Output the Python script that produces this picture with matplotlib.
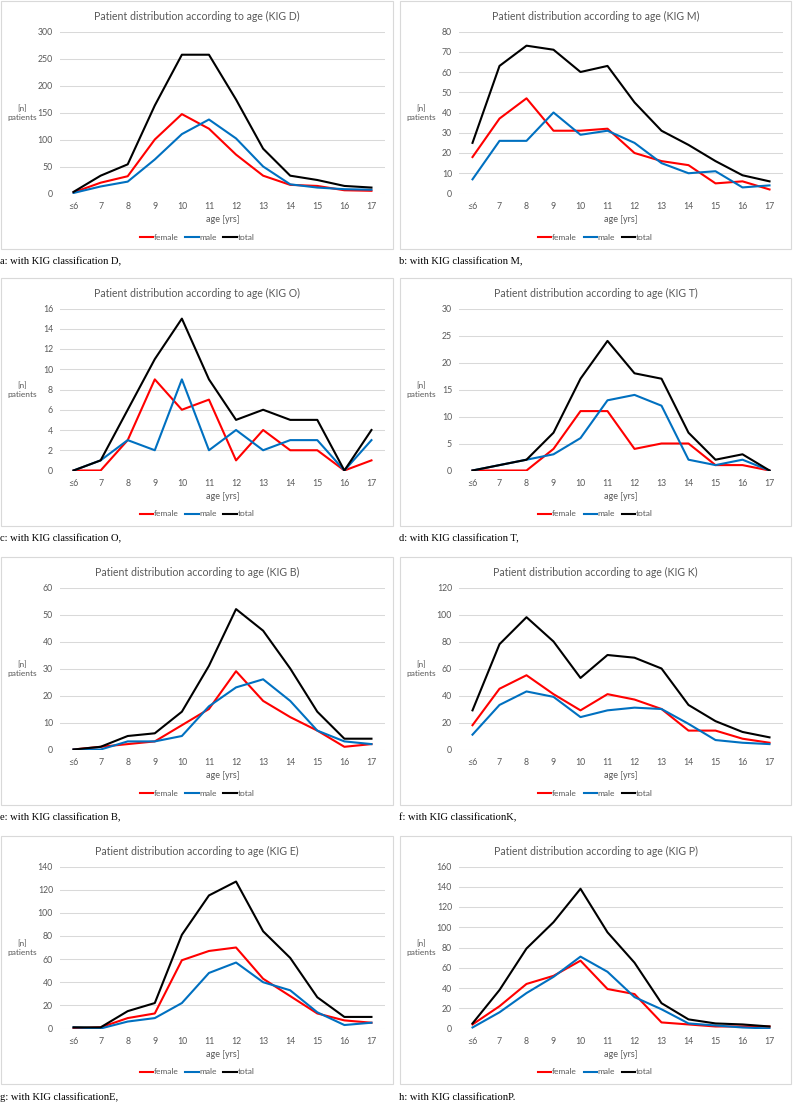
import matplotlib
matplotlib.use("Agg")
import matplotlib.pyplot as plt
from matplotlib.patches import Rectangle
from matplotlib.lines import Line2D

ages = ["≤6", "7", "8", "9", "10", "11", "12", "13", "14", "15", "16", "17"]

d_female = [2, 20, 32, 100, 147, 120, 72, 33, 16, 14, 6, 5]
d_male = [1, 13, 22, 63, 110, 137, 102, 50, 17, 11, 8, 7]
d_total = [3, 33, 54, 163, 257, 257, 174, 83, 33, 25, 14, 11]

m_female = [18, 37, 47, 31, 31, 32, 20, 16, 14, 5, 6, 2]
m_male = [7, 26, 26, 40, 29, 31, 25, 15, 10, 11, 3, 4]
m_total = [25, 63, 73, 71, 60, 63, 45, 31, 24, 16, 9, 6]

o_female = [0, 0, 3, 9, 6, 7, 1, 4, 2, 2, 0, 1]
o_male = [0, 1, 3, 2, 9, 2, 4, 2, 3, 3, 0, 3]
o_total = [0, 1, 6, 11, 15, 9, 5, 6, 5, 5, 0, 4]

t_female = [0, 0, 0, 4, 11, 11, 4, 5, 5, 1, 1, 0]
t_male = [0, 1, 2, 3, 6, 13, 14, 12, 2, 1, 2, 0]
t_total = [0, 1, 2, 7, 17, 24, 18, 17, 7, 2, 3, 0]

b_female = [0, 1, 2, 3, 9, 15, 29, 18, 12, 7, 1, 2]
b_male = [0, 0, 3, 3, 5, 16, 23, 26, 18, 7, 3, 2]
b_total = [0, 1, 5, 6, 14, 31, 52, 44, 30, 14, 4, 4]

k_female = [18, 45, 55, 41, 29, 41, 37, 30, 14, 14, 8, 5]
k_male = [11, 33, 43, 39, 24, 29, 31, 30, 19, 7, 5, 4]
k_total = [29, 78, 98, 80, 53, 70, 68, 60, 33, 21, 13, 9]

e_female = [0, 1, 9, 13, 59, 67, 70, 43, 28, 13, 7, 5]
e_male = [1, 0, 6, 9, 22, 48, 57, 40, 33, 14, 3, 5]
e_total = [1, 1, 15, 22, 81, 115, 127, 84, 61, 27, 10, 10]

p_female = [4, 22, 44, 52, 67, 39, 34, 6, 4, 2, 2, 2]
p_male = [1, 16, 35, 51, 71, 56, 31, 19, 5, 3, 1, 0]
p_total = [5, 38, 79, 105, 138, 95, 65, 25, 9, 5, 4, 2]

kig_codes = ["D", "M", "O", "T", "B", "K", "E", "P"]
captions = [
    "a: with KIG classification D,",
    "b: with KIG classification M,",
    "c: with KIG classification O,",
    "d: with KIG classification T,",
    "e: with KIG classification B,",
    "f: with KIG classificationK,",
    "g: with KIG classificationE,",
    "h: with KIG classificationP.",
]
y_max = [300, 80, 16, 30, 60, 120, 140, 160]
y_step = [50, 10, 2, 5, 10, 20, 20, 20]

series = [
    (d_female, d_male, d_total),
    (m_female, m_male, m_total),
    (o_female, o_male, o_total),
    (t_female, t_male, t_total),
    (b_female, b_male, b_total),
    (k_female, k_male, k_total),
    (e_female, e_male, e_total),
    (p_female, p_male, p_total),
]

W, H = 794, 1104
fig = plt.figure(figsize=(W / 100, H / 100), dpi=100)

FONT = "Lato"
GRAY = "#595959"
COLORS = ["#FF0000", "#0070C0", "#000000"]
LABELS = ["female", "male", "total"]

box_lefts = [1, 400]
box_rights = [393, 791]
box_tops = [1, 278, 557, 836]
box_h = 248


def fx(x):
    return x / W


def fy(y):
    return 1 - y / H


for i in range(8):
    row, col = divmod(i, 2)
    bl, br = box_lefts[col], box_rights[col]
    bt = box_tops[row]
    bb = bt + box_h
    # panel border
    fig.add_artist(Rectangle((fx(bl), fy(bb)), fx(br - bl), (bb - bt) / H,
                             transform=fig.transFigure, fill=False,
                             edgecolor="#d9d9d9", linewidth=0.8))
    al, ar = bl + 59, br - 8
    at, ab = bt + 30.5, bt + 192.5
    ax = fig.add_axes([fx(al), fy(ab), fx(ar - al), (ab - at) / H])
    x = list(range(len(ages)))
    for vals, c, lab in zip(series[i], COLORS, LABELS):
        ax.plot(x, vals, color=c, linewidth=1.5, label=lab, solid_joinstyle="round")
    ax.set_xlim(-0.5, len(ages) - 0.5)
    ax.set_ylim(0, y_max[i])
    ax.set_yticks(range(0, y_max[i] + 1, y_step[i]))
    ax.set_xticks(x)
    ax.set_xticklabels(ages)
    ax.grid(axis="y", color="#d9d9d9", linewidth=0.75)
    ax.set_axisbelow(True)
    for s in ax.spines.values():
        s.set_visible(False)
    ax.tick_params(axis="y", length=0, labelsize=6.3, labelcolor=GRAY, pad=5)
    ax.tick_params(axis="x", length=0, labelsize=6.3, labelcolor=GRAY, pad=6)
    for lbl in ax.get_xticklabels() + ax.get_yticklabels():
        lbl.set_family(FONT)
    ax.set_xlabel("age [yrs]", fontsize=6.5, color=GRAY, family=FONT, labelpad=3)
    # y label
    fig.text(fx(bl + 21), fy((at + ab) / 2), "[n]\npatients", ha="center", va="center",
             fontsize=6, color=GRAY, family=FONT, linespacing=1.3)
    # title
    fig.text(fx((bl + br) / 2), fy(bt + 15), f"Patient distribution according to age (KIG {kig_codes[i]})",
             ha="center", va="center", fontsize=7.6, color=GRAY, family=FONT)
    # legend
    handles = [Line2D([0], [0], color=c, linewidth=1.5) for c in COLORS]
    fig.legend(handles, LABELS, loc="center", bbox_to_anchor=(fx((bl + br) / 2), fy(bt + 236)),
               ncol=3, frameon=False, handlelength=1.6, handletextpad=0.1,
               columnspacing=0.8, prop={"family": FONT, "size": 6}, labelcolor=GRAY)
    # caption
    fig.text(fx(bl - 1), fy(bb + 13), captions[i], ha="left", va="center",
             fontsize=7.6, color="black", family="Liberation Serif")

fig.savefig("out.png", dpi=100, facecolor="white")
